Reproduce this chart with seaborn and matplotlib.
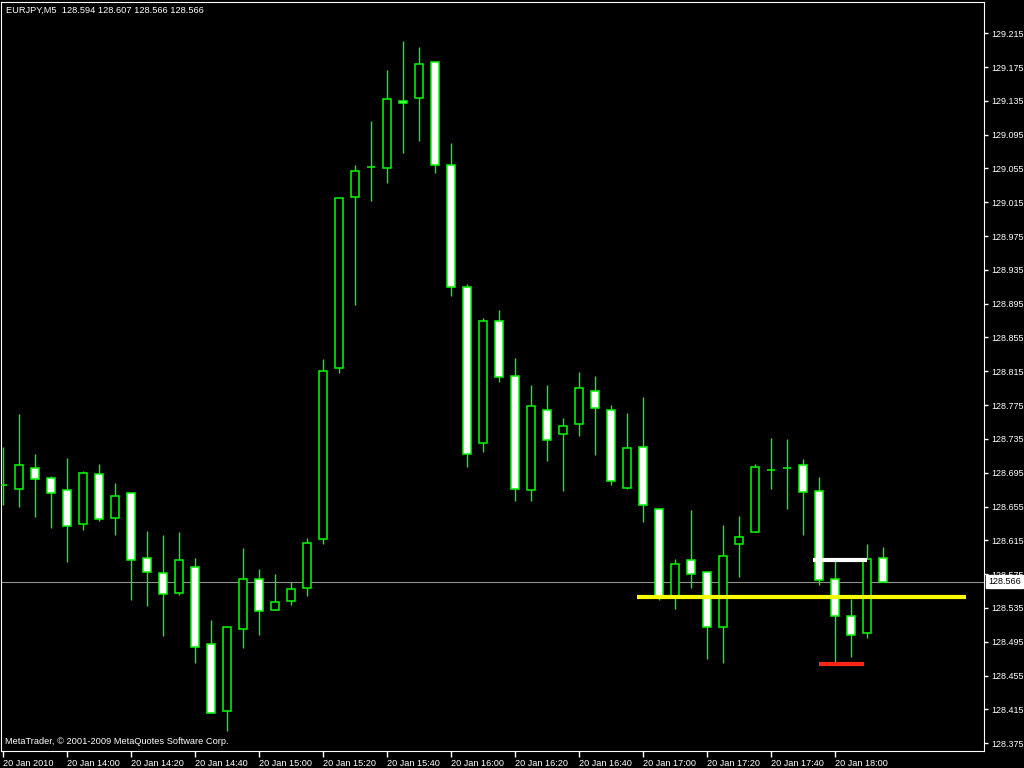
import matplotlib
matplotlib.use("Agg")
import matplotlib.pyplot as plt
import matplotlib.transforms as mtransforms
import numpy as np
import pandas as pd
import seaborn as sns

# EURJPY M5 bars from 20 Jan 2010 13:40 to 18:15
bar_times = pd.date_range("2010-01-20 13:40", "2010-01-20 18:15", freq="5min")

opens = [128.680, 128.676, 128.701, 128.689, 128.675, 128.634, 128.693, 128.641, 128.671, 128.594,
         128.576, 128.553, 128.583, 128.492, 128.413, 128.510, 128.569, 128.533, 128.543, 128.559,
         128.617, 128.819, 129.021, 129.057, 129.056, 129.135, 129.138, 129.181, 129.059, 128.915,
         128.730, 128.875, 128.809, 128.675, 128.769, 128.741, 128.753, 128.792, 128.769, 128.677,
         128.725, 128.652, 128.548, 128.592, 128.578, 128.512, 128.611, 128.625, 128.698, 128.701,
         128.704, 128.673, 128.569, 128.525, 128.505, 128.594]
highs = [128.725, 128.765, 128.717, 128.691, 128.712, 128.697, 128.705, 128.683, 128.671, 128.626,
         128.621, 128.625, 128.594, 128.521, 128.512, 128.606, 128.581, 128.575, 128.566, 128.618,
         128.830, 129.020, 129.059, 129.111, 129.172, 129.206, 129.199, 129.182, 129.085, 128.918,
         128.878, 128.888, 128.831, 128.799, 128.799, 128.760, 128.814, 128.809, 128.775, 128.766,
         128.785, 128.653, 128.593, 128.651, 128.578, 128.633, 128.644, 128.705, 128.736, 128.735,
         128.711, 128.690, 128.592, 128.546, 128.611, 128.607]
lows = [128.657, 128.654, 128.643, 128.630, 128.589, 128.627, 128.638, 128.621, 128.544, 128.537,
        128.502, 128.550, 128.470, 128.411, 128.389, 128.488, 128.503, 128.533, 128.538, 128.549,
        128.611, 128.813, 128.893, 129.017, 129.038, 129.073, 129.088, 129.050, 128.904, 128.702,
        128.719, 128.802, 128.662, 128.662, 128.709, 128.673, 128.739, 128.716, 128.680, 128.676,
        128.637, 128.544, 128.534, 128.559, 128.475, 128.470, 128.572, 128.625, 128.676, 128.652,
        128.621, 128.562, 128.471, 128.477, 128.499, 128.566]
closes = [128.680, 128.704, 128.688, 128.671, 128.632, 128.695, 128.640, 128.667, 128.592, 128.578,
          128.551, 128.592, 128.489, 128.411, 128.512, 128.569, 128.531, 128.542, 128.557, 128.612,
          128.815, 129.020, 129.052, 129.057, 129.137, 129.133, 129.179, 129.059, 128.915, 128.717,
          128.875, 128.808, 128.676, 128.774, 128.734, 128.750, 128.795, 128.772, 128.685, 128.724,
          128.657, 128.549, 128.587, 128.575, 128.512, 128.596, 128.619, 128.702, 128.698, 128.701,
          128.672, 128.568, 128.525, 128.503, 128.593, 128.566]

# horizontal levels drawn on the chart (price, from bar, to bar)
level_prices = [128.548, 128.592, 128.469]
level_from = [39.6, 50.6, 51.0]
level_to = [60.2, 54.0, 53.8]
level_colors = ["#ffff00", "#ffffff", "#ff2418"]

price_ticks = [129.215, 129.175, 129.135, 129.095, 129.055, 129.015, 128.975, 128.935,
               128.895, 128.855, 128.815, 128.775, 128.735, 128.695, 128.655, 128.615,
               128.575, 128.535, 128.495, 128.455, 128.415, 128.375]
time_ticks = ["13:40", "14:00", "14:20", "14:40", "15:00", "15:20", "15:40",
              "16:00", "16:20", "16:40", "17:00", "17:20", "17:40", "18:00"]
time_labels = ["20 Jan 2010", "20 Jan 14:00", "20 Jan 14:20", "20 Jan 14:40", "20 Jan 15:00",
               "20 Jan 15:20", "20 Jan 15:40", "20 Jan 16:00", "20 Jan 16:20", "20 Jan 16:40",
               "20 Jan 17:00", "20 Jan 17:20", "20 Jan 17:40", "20 Jan 18:00"]

df = pd.DataFrame({"time": bar_times, "open": opens, "high": highs,
                   "low": lows, "close": closes})
df["pos"] = np.arange(len(df))
df["bear"] = df["close"] < df["open"]

sns.set_style("dark", rc={
    "figure.facecolor": "black",
    "axes.facecolor": "black",
    "axes.edgecolor": "white",
    "axes.linewidth": 1.0,
    "axes.grid": False,
    "xtick.color": "white",
    "ytick.color": "white",
    "text.color": "white",
    "xtick.bottom": True,
    "ytick.right": True,
})
plt.rcParams["font.family"] = ["Liberation Sans", "DejaVu Sans"]

fig = plt.figure(figsize=(10.24, 7.68), dpi=100)
ax = fig.add_axes([1 / 1024, 17 / 768, 983 / 1024, 749 / 768])

green = "#00ff00"
ax.axhline(df["close"].iloc[-1], color="#909090", lw=0.8, zorder=1)
ax.vlines(df["pos"], df["low"], df["high"], color=green, lw=1.0, zorder=2)
ax.bar(df["pos"], df["close"] - df["open"], bottom=df["open"], width=0.56,
       color=np.where(df["bear"], "white", "black"), edgecolor=green,
       linewidth=1.1, zorder=3)
ax.hlines(level_prices, level_from, level_to, colors=level_colors, lw=3, zorder=4)

ax.set_xlim(-0.125, 61.3125)
ax.set_ylim(128.3657, 129.252)

ax.yaxis.tick_right()
ax.set_yticks(price_ticks, [f"{p:.3f}" for p in price_ticks])
ax.tick_params(axis="y", direction="out", length=3, width=1, pad=2, labelsize=6.5)

hhmm = df["time"].dt.strftime("%H:%M").tolist()
ax.set_xticks([hhmm.index(t) for t in time_ticks], time_labels, ha="left")
ax.tick_params(axis="x", direction="out", length=4, width=1, pad=1.5, labelsize=6.6)
ax.set_xlabel("")
ax.set_ylabel("")

# current bid label on the price scale
trans = mtransforms.blended_transform_factory(ax.transAxes, ax.transData)
last = df["close"].iloc[-1]
ax.text(1.0 + 4 / 983, last, f"{last:.3f}", transform=trans, ha="left", va="center",
        fontsize=6.5, color="black", zorder=10, clip_on=False,
        bbox=dict(boxstyle="square,pad=0.25", fc="white", ec="white"))

r = df.iloc[-1]
fig.text(6 / 1024, 1 - 10 / 768,
         f"EURJPY,M5  {r['open']:.3f} {r['high']:.3f} {r['low']:.3f} {r['close']:.3f}",
         fontsize=6.7, ha="left", va="center", color="white")
fig.text(5 / 1024, 1 - 742 / 768, "MetaTrader, © 2001-2009 MetaQuotes Software Corp.",
         fontsize=6.7, ha="left", va="center", color="white")

fig.savefig("out.png", dpi=100, facecolor="black")
